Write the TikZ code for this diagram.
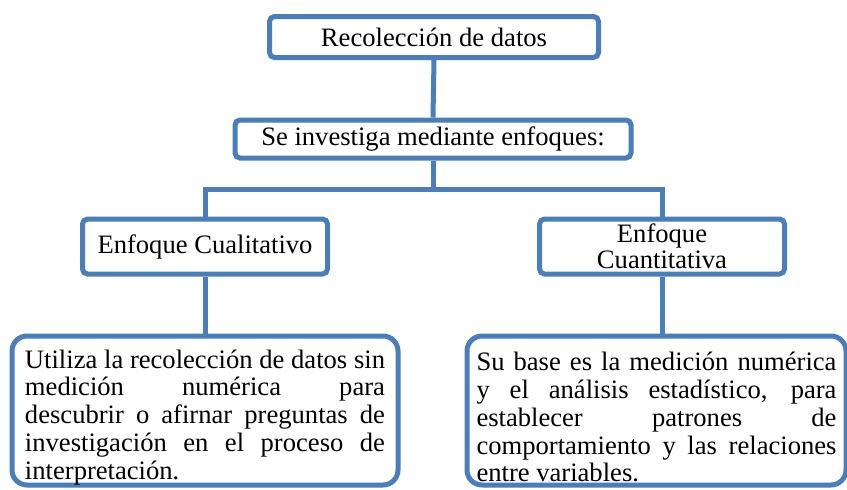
\documentclass[tikz,border=0pt]{standalone}
\usepackage{fontspec}
\setmainfont{Liberation Serif}
\definecolor{boxblue}{RGB}{74,126,187}
\newcommand{\jline}[1]{\makebox[180pt][s]{#1}}
\newcommand{\lastline}[1]{\makebox[180pt][l]{#1}}
\begin{document}
\begin{tikzpicture}[x=0.5pt,y=-0.5pt,
  topbox/.style={draw=boxblue, line width=2.5pt, rounded corners=2.5pt, fill=white,
    inner sep=0pt, font=\fontsize{13.3}{13.85}\selectfont, align=center},
  textbox/.style={draw=boxblue, line width=2.5pt, rounded corners=7.5pt, fill=white,
    inner sep=0pt, font=\fontsize{13.3}{13.85}\selectfont, align=left},
  link/.style={draw=boxblue, line width=2.5pt}]
\useasboundingbox (0,0) rectangle (847,489);
\node[topbox, minimum width=164.5pt, minimum height=20.5pt] (recol) at (434,37) {Recolección de datos};
\node[topbox, minimum width=198pt, minimum height=19pt] (inv) at (433,139) {Se investiga mediante enfoques:};
\node[topbox, minimum width=122.5pt, minimum height=27.5pt] (cual) at (205,246.5) {Enfoque Cualitativo};
\node[topbox, minimum width=122.5pt, minimum height=27.5pt, font=\fontsize{13.3}{13pt}\selectfont] (cuan) at (662,246.5) {Enfoque\\Cuantitativa};
\node[textbox, minimum width=193pt, minimum height=74.5pt] (tcual) at (205,410.5) {%
\jline{\rule{0pt}{16pt}Utiliza la recolección de datos sin}\\
\jline{medición numérica para}\\
\jline{descubrir o afirnar preguntas de}\\
\jline{investigación en el proceso de}\\
\lastline{interpretación.}};
\node[textbox, minimum width=189.5pt, minimum height=74.5pt] (tcuan) at (656.5,410.5) {%
\jline{\rule{0pt}{16pt}Su base es la medición numérica}\\
\jline{y el análisis estadístico, para}\\
\jline{establecer patrones de}\\
\jline{comportamiento y las relaciones}\\
\lastline{entre variables.}};
\coordinate (split) at (433,189);
\draw[link] (recol.south) -- (inv.north);
\draw[link] (inv.south) -- (split);
\draw[link] (split) -| (cual.north);
\draw[link] (split) -| (cuan.north);
\draw[link] (cual.south) -- (tcual.north);
\draw[link] (cuan.south) -- (cuan.south |- tcuan.north);
\end{tikzpicture}
\end{document}
